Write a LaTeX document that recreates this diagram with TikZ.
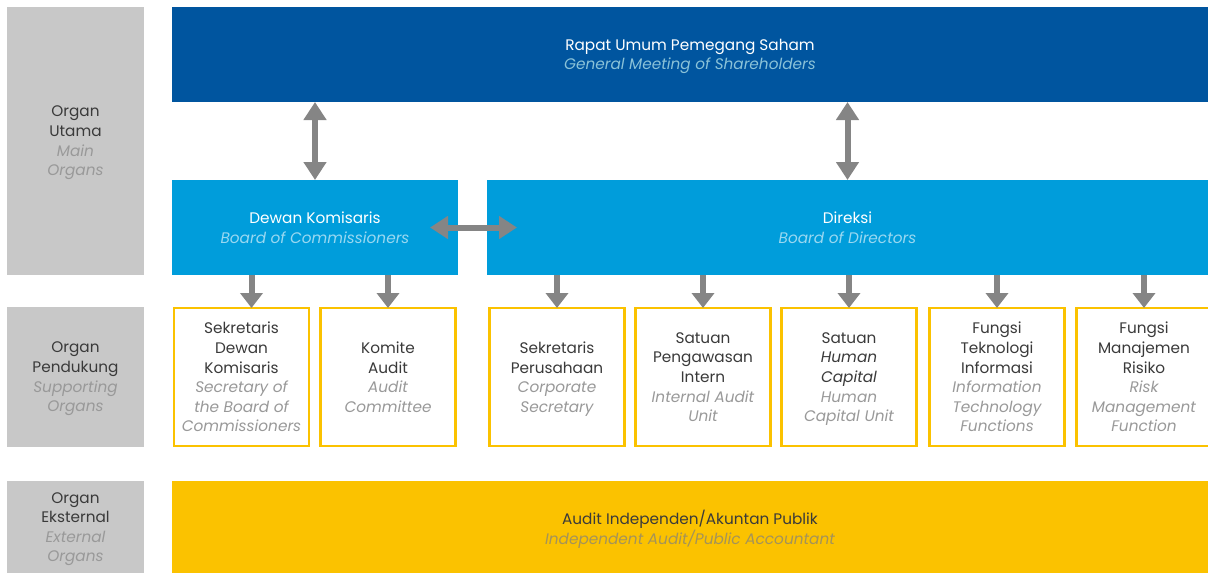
\documentclass[tikz,border=0pt]{standalone}
\usepackage{fontspec}
\setmainfont{Poppins}
\usetikzlibrary{arrows.meta, positioning}
\definecolor{colorGms}{HTML}{00559F}
\definecolor{colorBoard}{HTML}{009DDB}
\definecolor{colorOrgan}{HTML}{C8C8C8}
\definecolor{colorYellow}{HTML}{FBC200}
\definecolor{colorArrow}{HTML}{858585}
\definecolor{colorDark}{HTML}{3A3A3A}
\colorlet{entext}{gray}
\newcommand{\en}[1]{{\itshape\color{entext}#1}}
\tikzset{
  box/.style={inner sep=0pt, outer sep=0pt, align=center, text depth=-14pt,
    font=\fontsize{15.3}{19.6}\selectfont},
  en color/.style={execute at begin node={\colorlet{entext}{#1}}},
  organ/.style={box, fill=colorOrgan, minimum width=137pt, text=colorDark, en color=black!40},
  gms/.style={box, fill=colorGms, text=white, en color=white!55!colorBoard!80!gray},
  board/.style={box, fill=colorBoard, text=white, minimum height=95pt, en color=white!60!colorBoard},
  support/.style={box, draw=colorYellow, line width=2.5pt, fill=white, text=colorDark,
    minimum width=135pt, minimum height=138pt, en color=black!40},
  external/.style={box, fill=colorYellow, text=colorDark, en color=colorYellow!30!gray},
  biarrow/.style={colorArrow, line width=6pt,
    {Triangle[width=22pt,length=18pt]}-{Triangle[width=22pt,length=18pt]}},
  downarrow/.style={colorArrow, line width=6pt, -{Triangle[width=22pt,length=15pt]}}
}

\begin{document}
\begin{tikzpicture}[x=1pt, y=-1pt]
\useasboundingbox (0,0) rectangle (1208,573);
% left column
\node[organ, minimum height=268pt] (orgMain) at (75.5,141) {Organ\\Utama\\\en{Main}\\\en{Organs}};
\node[organ, minimum height=140pt] (orgSup) at (75.5,377) {Organ\\Pendukung\\\en{Supporting}\\\en{Organs}};
\node[organ, minimum height=92pt] (orgExt) at (75.5,527) {Organ\\Eksternal\\\en{External}\\\en{Organs}};
% main organs
\node[gms, minimum width=1036pt, minimum height=95pt] (rups) at (690,54.5) {Rapat Umum Pemegang Saham\\\en{General Meeting of Shareholders}};
\node[board, minimum width=286pt] (dekom) at (315,227.5) {Dewan Komisaris\\\en{Board of Commissioners}};
\node[board, minimum width=721pt] (direksi) at (847.5,227.5) {Direksi\\\en{Board of Directors}};
% supporting organs
\node[support] (sekdekom) at (241.5,377) {Sekretaris\\Dewan\\Komisaris\\\en{Secretary of}\\\en{the Board of}\\\en{Commissioners}};
\node[support] (komaudit) at (388,377) {Komite\\Audit\\\en{Audit}\\\en{Committee}};
\node[support] (sekper) at (557,377) {Sekretaris\\Perusahaan\\\en{Corporate}\\\en{Secretary}};
\node[support] (spi) at (703,377) {Satuan\\Pengawasan\\Intern\\\en{Internal Audit}\\\en{Unit}};
\node[support] (shc) at (849,377) {Satuan\\\textit{Human}\\\textit{Capital}\\\en{Human}\\\en{Capital Unit}};
\node[support] (fti) at (997,377) {Fungsi\\Teknologi\\Informasi\\\en{Information}\\\en{Technology}\\\en{Functions}};
\node[support] (fmr) at (1144,377) {Fungsi\\Manajemen\\Risiko\\\en{Risk}\\\en{Management}\\\en{Function}};
% external
\node[external, minimum width=1036pt, minimum height=92pt] (kap) at (690,527) {Audit Independen/Akuntan Publik\\\en{Independent Audit/Public Accountant}};
% connectors
\draw[biarrow] (rups.south -| dekom) -- (dekom.north);
\draw[biarrow] (rups.south -| direksi) -- (direksi.north);
\draw[biarrow] ([xshift=-28pt]dekom.east) -- ([xshift=30pt]direksi.west);
\draw[downarrow] ([xshift=10pt]sekdekom.north |- dekom.south) -- ([xshift=10pt]sekdekom.north);
\foreach \n in {komaudit} \draw[downarrow] (\n.north |- dekom.south) -- (\n.north);
\foreach \n in {sekper, spi, shc, fti, fmr} \draw[downarrow] (\n.north |- direksi.south) -- (\n.north);
\end{tikzpicture}
\end{document}
